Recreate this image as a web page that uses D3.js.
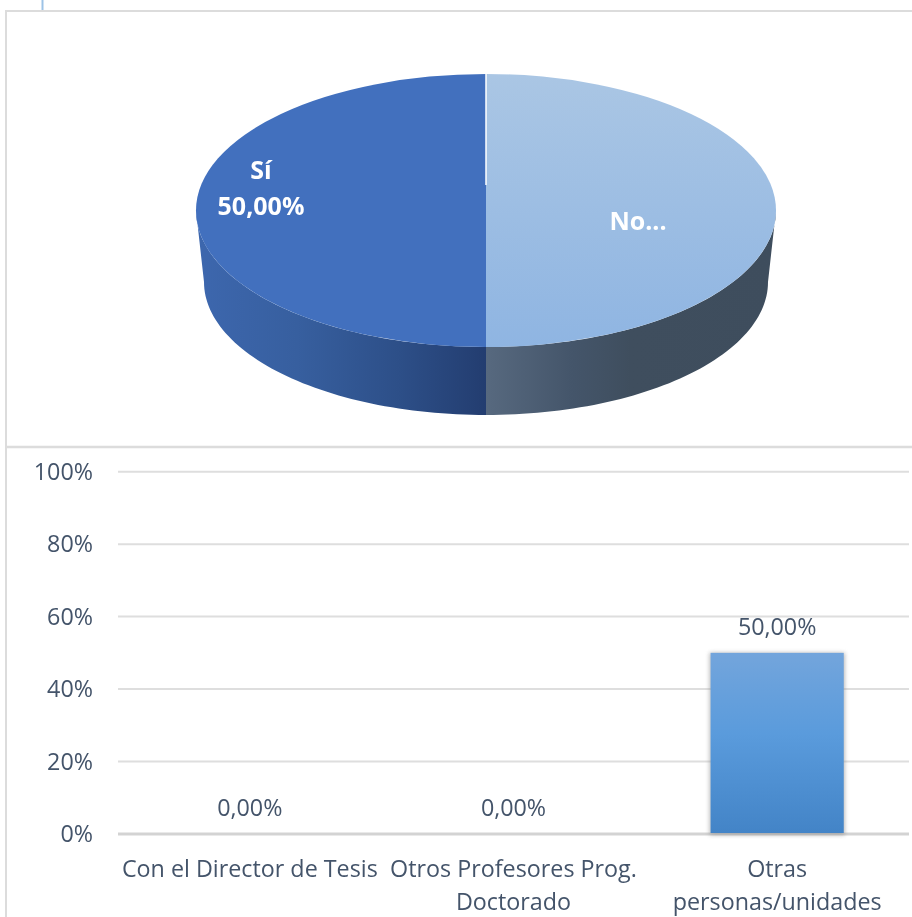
<!DOCTYPE html>
<html><head><meta charset="utf-8">
<script src="https://cdn.jsdelivr.net/npm/d3@7"></script>
<style>html,body{margin:0;padding:0;background:#fff}svg{display:block;filter:blur(0.4px)}text{font-family:"Open Sans",sans-serif}</style>
</head><body><svg id="c" width="912" height="917"></svg>
<script>
const pieCategories = ["No", "Sí"];
const pieValues = [50, 50];
const pieLabels = [["No..."], ["Sí", "50,00%"]];
const barCategories = [["Con el Director de Tesis"], ["Otros Profesores Prog.", "Doctorado"], ["Otras", "personas/unidades"]];
const barValues = [0, 0, 50];
const barLabels = ["0,00%", "0,00%", "50,00%"];
const yTicks = [0, 20, 40, 60, 80, 100];

const svg = d3.select("#c");
const defs = svg.append("defs");
function grad(id, x1, y1, x2, y2, stops, units) {
  const g = defs.append("linearGradient").attr("id", id).attr("x1", x1).attr("y1", y1).attr("x2", x2).attr("y2", y2);
  if (units) g.attr("gradientUnits", units);
  stops.forEach(s => g.append("stop").attr("offset", s[0]).attr("stop-color", s[1]));
}
grad("wallL", 0, 0, 1, 0, [[0, "#3d67ae"], [0.35, "#375f9f"], [0.7, "#2d4f88"], [1, "#233d70"]]);
grad("wallR", 0, 0, 1, 0, [[0, "#57697f"], [0.3, "#44556a"], [0.5, "#3f4e5e"], [1, "#3e4d5d"]]);
grad("topR", 0, 0, 0, 1, [[0, "#aac6e4"], [1, "#8fb5e2"]]);
grad("barG", 0, 0, 0, 1, [[0, "#73a5dc"], [0.45, "#5a9bdc"], [1, "#4384c7"]]);
const sh = defs.append("filter").attr("id", "sh").attr("x", "-10%").attr("y", "-5%").attr("width", "120%").attr("height", "110%");
sh.append("feGaussianBlur").attr("stdDeviation", 2.2);

// frame
const frame = "#dcdcdc";
svg.append("line").attr("x1", 42.5).attr("x2", 42.5).attr("y1", 0).attr("y2", 10).attr("stroke", "#9dc3e6").attr("stroke-width", 2);
svg.append("path").attr("d", "M912,11H6V917").attr("fill", "none").attr("stroke", frame).attr("stroke-width", 2);
svg.append("line").attr("x1", 6).attr("x2", 912).attr("y1", 447).attr("y2", 447).attr("stroke", frame).attr("stroke-width", 2.5);

// pie
const cx = 486, topCy = 210.5, rx = 290, ry = 136.5;
const botCy = 282, botRx = 282, botRy = 133;
const slices = d3.pie().sort(null).value((d, i) => pieValues[i])(pieCategories);
const steps = d3.range(0, 61).map(i => i / 60);
const wall = (a0, a1) => {
  const a = Math.max(a0, Math.PI / 2), b = Math.min(a1, 3 * Math.PI / 2);
  const top = steps.map(t => { const th = a + (b - a) * t; return [cx + rx * Math.sin(th), topCy - ry * Math.cos(th)]; });
  const bot = steps.map(t => { const th = b - (b - a) * t; return [cx + botRx * Math.sin(th), botCy - botRy * Math.cos(th)]; });
  return d3.line()(top.concat(bot)) + "Z";
};
const wallFill = ["url(#wallR)", "url(#wallL)"];
const topFill = ["url(#topR)", "#4270be"];
svg.append("g").selectAll("path").data(slices).join("path")
  .attr("d", d => wall(d.startAngle, d.endAngle))
  .attr("fill", (d, i) => wallFill[i]);
const arc = d3.arc().innerRadius(0).outerRadius(rx);
svg.append("g").attr("transform", `translate(${cx},${topCy}) scale(1,${ry / rx})`)
  .selectAll("path").data(slices).join("path")
  .attr("d", arc).attr("fill", (d, i) => topFill[i]);
svg.append("line").attr("x1", cx).attr("x2", cx).attr("y1", 74).attr("y2", 185).attr("stroke", "#fff").attr("stroke-width", 1.5);
const labelPos = [[638, 230], [261, 179]];
pieLabels.forEach((lines, i) => {
  const t = svg.append("text").attr("text-anchor", "middle").attr("fill", "#fff")
    .attr("font-size", 25).attr("font-weight", 700);
  lines.forEach((s, k) => t.append("tspan").attr("x", labelPos[i][0]).attr("y", labelPos[i][1] + k * 36).text(s));
});

// bars
const y = d3.scaleLinear().domain([0, 100]).range([834, 471.7]);
const x = d3.scaleBand().domain(d3.range(barValues.length)).range([118, 909]).paddingInner(0).paddingOuter(0);
const txt = "#44546a";
svg.append("g").selectAll("line").data(yTicks).join("line")
  .attr("x1", 118).attr("x2", 909).attr("y1", d => y(d)).attr("y2", d => y(d))
  .attr("stroke", d => d === 0 ? "#d3d3d3" : "#dedede").attr("stroke-width", d => d === 0 ? 3 : 2);
const yAxis = d3.axisLeft(y).tickValues(yTicks).tickFormat(d => d + "%").tickSize(0).tickPadding(0);
const gy = svg.append("g").attr("transform", "translate(93,0)").call(yAxis);
gy.select(".domain").remove();
gy.selectAll("text").attr("fill", txt).attr("font-size", 23.3).style("font-family", '"Open Sans",sans-serif');
const bw = x.bandwidth() * 0.505;
const bx = i => x(i) + (x.bandwidth() - bw) / 2;
const barsData = barValues.map((v, i) => ({ v, i })).filter(d => d.v > 0);
svg.append("g").selectAll("rect").data(barsData).join("rect")
  .attr("x", d => bx(d.i) - 1).attr("y", d => y(d.v)).attr("width", bw + 2).attr("height", d => y(0) - y(d.v) + 1)
  .attr("fill", "#888").attr("opacity", 0.6).attr("filter", "url(#sh)");
svg.append("g").selectAll("rect").data(barsData).join("rect")
  .attr("x", d => bx(d.i)).attr("y", d => y(d.v)).attr("width", bw).attr("height", d => y(0) - 1 - y(d.v))
  .attr("fill", "url(#barG)");
svg.append("g").selectAll("text").data(barValues).join("text")
  .attr("x", (d, i) => x(i) + x.bandwidth() / 2).attr("y", d => y(d) - 18)
  .attr("text-anchor", "middle").attr("fill", txt).attr("font-size", 23.3)
  .text((d, i) => barLabels[i]);
barCategories.forEach((lines, i) => {
  const t = svg.append("text").attr("text-anchor", "middle").attr("fill", txt).attr("font-size", 23.3);
  lines.forEach((s, k) => t.append("tspan").attr("x", x(i) + x.bandwidth() / 2).attr("y", 877 + k * 33).text(s));
});
</script></body></html>
